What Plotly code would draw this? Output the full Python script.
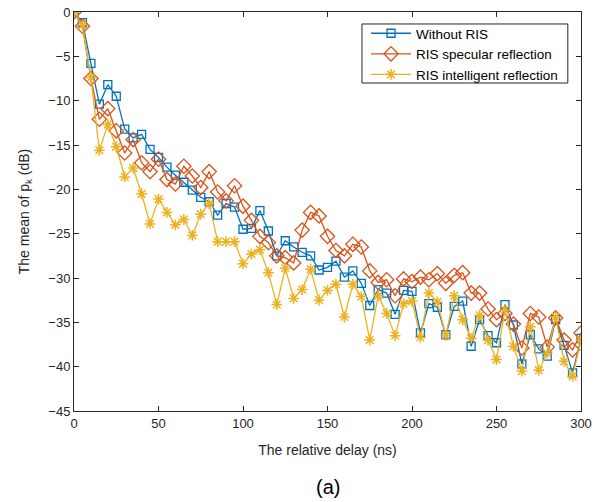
import plotly.graph_objects as go

delay_ns = list(range(0, 301, 5))

without_ris = [0, -1.2, -5.8, -10.4, -8.2, -9.5, -13.2, -14.2, -13.8, -15.5,
               -16.4, -17.5, -18.4, -19.2, -20.1, -20.9, -21.4, -22.9, -21.6, -22.0,
               -24.5, -24.4, -22.4, -24.7, -27.5, -25.8, -26.5, -27.1, -27.5, -29.1,
               -28.8, -28.1, -29.9, -29.2, -30.6, -33.1, -31.3, -31.7, -34.1, -31.4,
               -31.5, -36.2, -32.9, -33.3, -36.4, -33.2, -32.6, -37.7, -34.7, -36.5,
               -37.3, -33.0, -35.3, -39.7, -36.4, -38.0, -38.8, -34.7, -37.6, -40.7,
               -36.8]

ris_specular = [0, -1.6, -7.5, -12.1, -10.9, -13.4, -15.9, -14.4, -17.0, -18.0,
                -16.6, -18.9, -19.4, -17.4, -18.5, -19.8, -18.0, -20.3, -21.3, -19.6,
                -21.9, -23.5, -25.3, -26.0, -27.5, -27.7, -28.3, -24.6, -22.6, -23.0,
                -25.3, -26.9, -27.5, -26.2, -26.5, -29.2, -30.5, -30.2, -32.0, -30.1,
                -30.4, -29.9, -30.2, -29.5, -30.6, -29.7, -29.4, -31.7, -31.7, -33.5,
                -34.7, -34.0, -35.2, -37.9, -34.0, -34.4, -37.8, -34.5, -37.0, -38.1,
                -36.2]

ris_intelligent = [0, -1.5, -7.4, -15.6, -12.7, -15.2, -18.6, -17.6, -20.5, -23.9,
                   -21.1, -22.6, -24.0, -23.4, -25.2, -22.8, -21.6, -25.9, -25.9, -25.9,
                   -28.4, -27.3, -26.8, -29.4, -33.0, -28.9, -32.3, -31.3, -29.0, -32.5,
                   -31.4, -30.7, -34.4, -30.7, -32.1, -37.0, -32.0, -34.0, -36.5, -32.9,
                   -32.6, -36.7, -31.7, -32.7, -36.5, -32.0, -34.7, -36.8, -34.2, -37.0,
                   -39.2, -33.6, -37.7, -40.5, -35.5, -40.4, -38.5, -34.4, -39.4, -41.1,
                   -37.0]

series_names = ["Without RIS", "RIS specular reflection", "RIS intelligent reflection"]
x_ticks = [0, 50, 100, 150, 200, 250, 300]
y_ticks = [0, -5, -10, -15, -20, -25, -30, -35, -40, -45]

BLUE = "#0072BD"
ORANGE = "#D95319"
YELLOW = "#EDB120"
AX = "#262626"

fig = go.Figure()
fig.add_trace(go.Scatter(
    x=delay_ns, y=without_ris, name=series_names[0], mode="lines+markers",
    line=dict(color=BLUE, width=1.3),
    marker=dict(symbol="square-open", size=8, color=BLUE, line=dict(color=BLUE, width=1.3))))
fig.add_trace(go.Scatter(
    x=delay_ns, y=ris_specular, name=series_names[1], mode="lines+markers",
    line=dict(color=ORANGE, width=1.3),
    marker=dict(symbol="diamond-open", size=11, color=ORANGE, line=dict(color=ORANGE, width=1.3))))
fig.add_trace(go.Scatter(
    x=delay_ns, y=ris_intelligent, name=series_names[2], mode="lines+markers",
    line=dict(color=YELLOW, width=1.3),
    marker=dict(symbol="asterisk-open", size=9, color=YELLOW, line=dict(color=YELLOW, width=1.5))))

axis_common = dict(
    showline=True, linecolor=AX, linewidth=1, mirror="ticks",
    ticks="inside", ticklen=5, tickcolor=AX, showgrid=False, zeroline=False,
    automargin=False, ticklabeloverflow="allow",
    tickfont=dict(family="Liberation Sans, Arial", size=13, color=AX),
)

fig.update_layout(
    width=611, height=502,
    margin=dict(l=74, r=30, t=12, b=91, autoexpand=False),
    paper_bgcolor="white", plot_bgcolor="white",
    font=dict(family="Liberation Sans, Arial", size=13, color=AX),
    xaxis=dict(range=[0, 300], tickvals=x_ticks,
               title=dict(text="The relative delay (ns)", font=dict(size=14), standoff=15),
               **axis_common),
    yaxis=dict(range=[-45, 0], tickvals=y_ticks,
               title=dict(text="The mean of p<sub>k</sub> (dB)", font=dict(size=14), standoff=15),
               **axis_common),
    legend=dict(x=0.576, y=0.985, xanchor="left", yanchor="top",
                bgcolor="rgba(0,0,0,0)", borderwidth=0,
                font=dict(family="Liberation Sans, Arial", size=13.5, color="black"),
                tracegroupgap=0, itemwidth=40),
    showlegend=True,
    shapes=[dict(type="rect", xref="paper", yref="paper",
                 x0=0.568, x1=0.974, y0=0.822, y1=0.970,
                 fillcolor="white", line=dict(color=AX, width=1), layer="above")],
    annotations=[dict(text="(a)", x=0.5, y=-0.19, xref="paper", yref="paper",
                      xanchor="center", yanchor="middle", showarrow=False,
                      font=dict(family="Liberation Sans, Arial", size=20, color="black"))],
)

fig.write_html("out.html", config={"displayModeBar": False},
               post_script="document.body.style.margin='0';")
